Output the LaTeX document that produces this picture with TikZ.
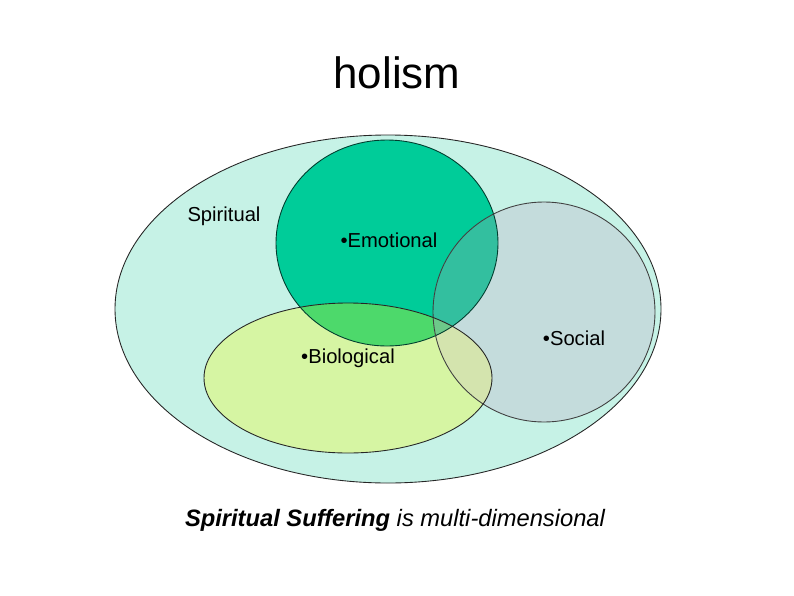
\documentclass[tikz,border=0pt]{standalone}
\usepackage{fontspec}
\setmainfont{Liberation Sans}
\usepackage{tikz}

\definecolor{spirit}{HTML}{C6F2E6}
\definecolor{emo}{HTML}{00CC99}
\definecolor{soc}{HTML}{C4DCDC}
\definecolor{bio}{HTML}{D6F5A3}
\definecolor{emobio}{HTML}{4DD96B}
\definecolor{emosoc}{HTML}{33BF9F}
\definecolor{biosoc}{HTML}{D4E4AE}
\definecolor{allthree}{HTML}{6DC98A}

\newcommand{\spiritpath}{(388,309) ellipse [x radius=273, y radius=174]}
\newcommand{\emopath}{(387,243) ellipse [x radius=111, y radius=103]}
\newcommand{\socpath}{(544,312) ellipse [x radius=111, y radius=110]}
\newcommand{\biopath}{(348,378) ellipse [x radius=144, y radius=75]}

\tikzset{
  rim/.style={line width=0.5pt, draw=black!85},
  lbl/.style={font=\fontsize{11.5pt}{13pt}\selectfont, inner sep=0pt},
}

\begin{document}
\begin{tikzpicture}[x=0.02cm, y=-0.02cm]
\useasboundingbox (0,0) rectangle (794,595);
\fill[white] (0,0) rectangle (794,595);

\node[font=\fontsize{25pt}{30pt}\selectfont] (title) at (397,73) {holism};

%%%%% the four areas
\fill[spirit] \spiritpath;
\fill[emo] \emopath;
\fill[soc] \socpath;
\fill[bio] \biopath;
%%%%% overlaps
\begin{scope}
\clip \emopath;
\fill[emosoc] \socpath;
\fill[emobio] \biopath;
\clip \socpath;
\fill[allthree] \biopath;
\end{scope}
\begin{scope}
\clip \biopath;
\clip \socpath;
\fill[biosoc] (390,250) rectangle (660,460);
\clip \emopath;
\fill[allthree] (390,250) rectangle (660,460);
\end{scope}
%%%%% outlines
\draw[rim] \spiritpath;
\draw[rim, draw=black!70!emo] \emopath;
\draw[rim, draw=black!75] \socpath;
\draw[rim] \biopath;

\node[lbl] (spiritual) at (224,216) {Spiritual};
\node[lbl] (emotional) at (389,240) {\textbullet Emotional};
\node[lbl] (social) at (574,338) {\textbullet Social};
\node[lbl] (biological) at (348,358) {\textbullet Biological};

\node[font=\fontsize{13.5pt}{16pt}\selectfont\itshape] (caption) at (395,520)
  {\textbf{Spiritual Suffering} is multi-dimensional};
\end{tikzpicture}
\end{document}
